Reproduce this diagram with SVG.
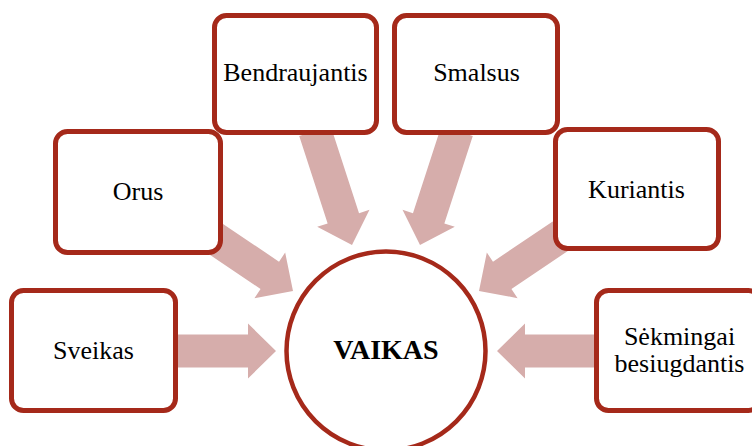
<svg xmlns="http://www.w3.org/2000/svg" width="752" height="446" viewBox="0 0 752 446">
  <style>
    .box { fill: #ffffff; stroke: #a5291a; stroke-width: 5; }
    .hub { fill: #ffffff; stroke: #a5291a; stroke-width: 4.5; }
    .arrow { fill: #d6adab; }
    .lbl { font-family: 'Liberation Serif', 'Times New Roman', serif; font-size: 26px; fill: #000000; text-anchor: middle; }
    .hubl { font-family: 'Liberation Serif', 'Times New Roman', serif; font-size: 28px; font-weight: bold; fill: #000000; text-anchor: middle; }
  </style>
  <defs>
    <polygon id="arr100" class="arrow" points="-100,-16.5 -28,-16.5 -28,-27.5 0,0 -28,27.5 -28,16.5 -100,16.5"/>
    <polygon id="arr120" class="arrow" points="-120,-16.5 -28,-16.5 -28,-27.5 0,0 -28,27.5 -28,16.5 -120,16.5"/>
  </defs>
  <rect width="752" height="446" fill="#ffffff"/>
  <g id="connectors">
    <use href="#arr100" transform="translate(276,351)"/>
    <use href="#arr100" transform="translate(497,351) rotate(180)"/>
    <use href="#arr100" transform="translate(293,291) rotate(34)"/>
    <use href="#arr100" transform="translate(479,291) rotate(146)"/>
    <use href="#arr120" transform="translate(352,245) rotate(72)"/>
    <use href="#arr120" transform="translate(420,245) rotate(108)"/>
  </g>
  <g id="bendraujantis">
    <rect class="box" x="214.5" y="15.5" width="162" height="117" rx="12"/>
    <text class="lbl" x="295.5" y="81">Bendraujantis</text>
  </g>
  <g id="smalsus">
    <rect class="box" x="394.5" y="15.5" width="163" height="117" rx="12"/>
    <text class="lbl" x="476.5" y="81">Smalsus</text>
  </g>
  <g id="orus">
    <rect class="box" x="55.5" y="131.5" width="165" height="121" rx="12"/>
    <text class="lbl" x="138" y="200">Orus</text>
  </g>
  <g id="kuriantis">
    <rect class="box" x="555.5" y="129.5" width="163" height="119" rx="12"/>
    <text class="lbl" x="636.5" y="198">Kuriantis</text>
  </g>
  <g id="sveikas">
    <rect class="box" x="11.5" y="290.5" width="164" height="120" rx="12"/>
    <text class="lbl" x="93.5" y="359">Sveikas</text>
  </g>
  <g id="sekmingai">
    <rect class="box" x="596.5" y="290.5" width="164" height="120" rx="12"/>
    <text class="lbl" x="679.5" y="345">Sėkmingai</text>
    <text class="lbl" x="679.5" y="372">besiugdantis</text>
  </g>
  <g id="vaikas">
    <circle class="hub" cx="386" cy="351" r="99.5"/>
    <text class="hubl" x="386" y="359">VAIKAS</text>
  </g>
</svg>
